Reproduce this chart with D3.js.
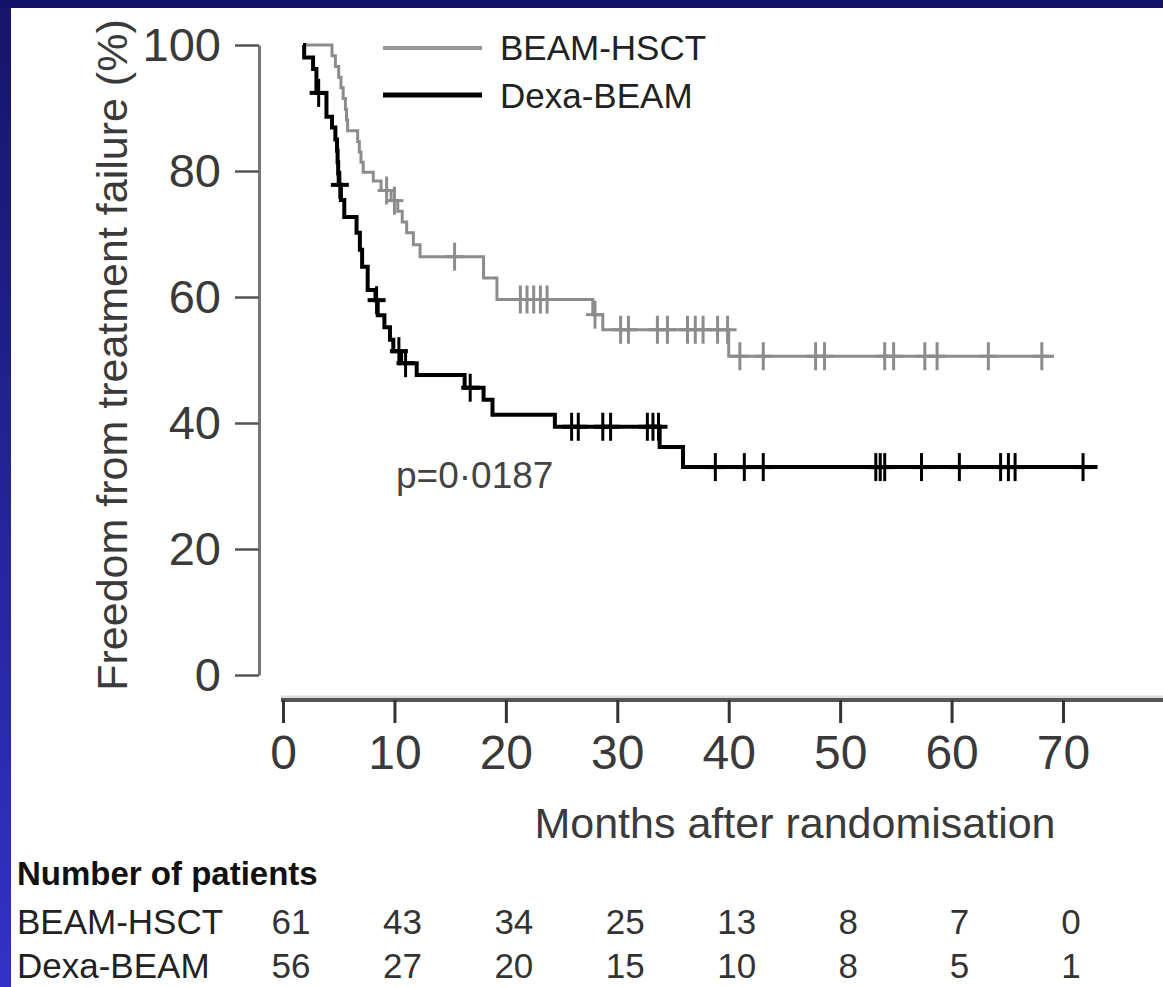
<!DOCTYPE html>
<html>
<head>
<meta charset="utf-8">
<script src="https://cdn.jsdelivr.net/npm/d3@7"></script>
<style>
  body { margin: 0; background: #fff; }
  svg { display: block; font-family: "Liberation Sans", Arial, Helvetica, sans-serif; }
</style>
</head>
<body>
<div id="chart"></div>
<script>
// Kaplan-Meier steps: [month, % free from failure]
var hsctSteps = [
  [1.8, 100], [4.4, 98.3], [4.7, 96.6], [5.0, 94.9], [5.2, 93.2], [5.4, 91.5],
  [5.6, 89.8], [5.7, 88.1], [5.8, 86.4], [6.7, 84.7], [6.85, 83.0], [7.0, 81.4],
  [7.2, 79.8], [8.1, 78.4], [8.8, 76.9], [9.7, 75.3], [10.3, 73.6], [10.7, 71.9],
  [11.1, 70.2], [11.7, 68.3], [12.3, 66.4], [18.0, 63.0], [19.2, 59.6],
  [27.8, 57.2], [28.7, 54.8], [40.0, 50.6]
];
var hsctEnd = 69.2;
var hsctCensor = [9.3, 10.0, 15.4, 21.3, 21.9, 22.5, 23.1, 23.7, 28.0, 30.3, 31.0,
  33.6, 34.5, 36.3, 37.0, 37.7, 39.0, 39.9, 41.0, 43.1, 47.8, 48.6, 54.0, 54.8,
  57.6, 58.7, 63.3, 68.1];

var dexaSteps = [
  [1.8, 100], [1.9, 98.0], [2.7, 96.2], [3.0, 92.4], [3.9, 88.6], [4.4, 86.9],
  [4.7, 85.0], [4.85, 83.2], [4.9, 81.4], [4.95, 79.6], [5.0, 77.8], [5.2, 75.4],
  [5.5, 72.7], [6.6, 70.2], [6.9, 67.5], [7.1, 64.8], [7.6, 61.1], [8.3, 59.5],
  [8.5, 57.1], [9.1, 55.2], [9.6, 53.2], [9.9, 51.4], [10.6, 49.5], [12.0, 47.6],
  [16.3, 45.6], [18.0, 43.7], [18.8, 41.3], [24.4, 39.4], [33.8, 36.2], [35.9, 33.0]
];
var dexaEnd = 73.1;
var dexaCensor = [3.2, 5.1, 8.4, 10.4, 11.0, 16.8, 25.9, 26.5, 28.7, 29.4, 32.7,
  33.2, 33.7, 38.8, 41.4, 43.1, 53.2, 53.6, 54.0, 57.3, 60.7, 64.4, 65.1, 65.7, 71.8];

var xTicks = [0, 10, 20, 30, 40, 50, 60, 70];
var yTicks = [0, 20, 40, 60, 80, 100];
var groups = ["BEAM-HSCT", "Dexa-BEAM"];
var hsctAtRisk = [61, 43, 34, 25, 13, 8, 7, 0];
var dexaAtRisk = [56, 27, 20, 15, 10, 8, 5, 1];
var pText = "p=0\u00b70187";

(function () {
    "use strict";

    var width = 1163, height = 987;
    var greyCol = "#8c8c8c", blackCol = "#000";

    var svg = d3.select("#chart").append("svg")
        .attr("width", width)
        .attr("height", height);

    //Blue slide frame
    var defs = svg.append("defs");
    var grad = defs.append("linearGradient").attr("id", "leftBand")
        .attr("x1", 0).attr("y1", 0).attr("x2", 0).attr("y2", 1);
    grad.append("stop").attr("offset", "0%").attr("stop-color", "#15156a");
    grad.append("stop").attr("offset", "100%").attr("stop-color", "#3232c8");

    svg.append("rect").attr("width", width).attr("height", height).attr("fill", "#fff");
    svg.append("rect").attr("x", 0).attr("y", 0).attr("width", 11).attr("height", height)
        .attr("fill", "url(#leftBand)");
    svg.append("rect").attr("x", 0).attr("y", 0).attr("width", width).attr("height", 8)
        .attr("fill", "#13136a");

    var x = d3.scaleLinear().domain([0, 70]).range([283, 1063]);
    var y = d3.scaleLinear().domain([0, 100]).range([675, 45]);

    //Y axis (ticks point left, line offset from x axis)
    var yAxis = svg.append("g").attr("transform", "translate(259,0)")
        .call(d3.axisLeft(y).tickValues(yTicks).tickSize(24).tickSizeOuter(0).tickPadding(14));
    yAxis.select(".domain").attr("stroke", "#777").attr("stroke-width", 3);
    yAxis.selectAll(".tick line").attr("stroke", "#555").attr("stroke-width", 2.5);
    yAxis.selectAll(".tick text")
        .attr("font-size", 47).attr("fill", "#3a3a3a")
        .attr("font-family", "Liberation Sans, Arial, sans-serif");

    //X axis
    svg.append("line").attr("x1", 281).attr("x2", width).attr("y1", 697).attr("y2", 697)
        .attr("stroke", "#ddd").attr("stroke-width", 3);
    var xAxis = svg.append("g").attr("transform", "translate(0,700)")
        .call(d3.axisBottom(x).tickValues(xTicks).tickSize(23).tickSizeOuter(0).tickPadding(12));
    xAxis.select(".domain").attr("d", "M281,0H" + width)
        .attr("stroke", "#555").attr("stroke-width", 4);
    xAxis.selectAll(".tick line").attr("stroke", "#333").attr("stroke-width", 3);
    xAxis.selectAll(".tick text")
        .attr("font-size", 48).attr("fill", "#3a3a3a")
        .attr("font-family", "Liberation Sans, Arial, sans-serif");

    //Axis titles
    svg.append("text")
        .attr("transform", "translate(127,355) rotate(-90)")
        .attr("text-anchor", "middle")
        .attr("font-size", 43).attr("fill", "#3a3a3a")
        .text("Freedom from treatment failure (%)");
    svg.append("text")
        .attr("x", 795).attr("y", 838)
        .attr("text-anchor", "middle")
        .attr("font-size", 43).attr("fill", "#3a3a3a")
        .text("Months after randomisation");

    //Survival curves
    var line = d3.line()
        .x(function (d) { return x(d[0]); })
        .y(function (d) { return y(d[1]); })
        .curve(d3.curveStepAfter);

    function stepAt(steps, t) {
        var v = steps[0][1];
        steps.forEach(function (s) { if (s[0] <= t) v = s[1]; });
        return v;
    }

    function drawCurve(steps, end, censor, col, lw, mw) {
        var pts = steps.concat([[end, steps[steps.length - 1][1]]]);
        svg.append("path").datum(pts)
            .attr("d", line)
            .attr("fill", "none")
            .attr("stroke", col)
            .attr("stroke-width", lw);

        var marks = svg.append("g").selectAll("g.mark")
            .data(censor).enter().append("g").attr("class", "mark")
            .attr("transform", function (d) {
                return "translate(" + x(d) + "," + y(stepAt(steps, d)) + ")";
            });
        marks.append("line")
            .attr("x1", 0).attr("x2", 0).attr("y1", -14).attr("y2", 14)
            .attr("stroke", col).attr("stroke-width", mw);
        marks.append("line")
            .attr("x1", -9).attr("x2", 9).attr("y1", 0).attr("y2", 0)
            .attr("stroke", col).attr("stroke-width", lw);
    }

    drawCurve(hsctSteps, hsctEnd, hsctCensor, greyCol, 3, 3);
    drawCurve(dexaSteps, dexaEnd, dexaCensor, blackCol, 4, 3);

    //Legend
    var legend = svg.append("g");
    [greyCol, blackCol].forEach(function (c, i) {
        legend.append("line")
            .attr("x1", 383).attr("x2", 482)
            .attr("y1", 48 + i * 47).attr("y2", 48 + i * 47)
            .attr("stroke", i === 0 ? "#999" : "#000")
            .attr("stroke-width", i === 0 ? 4 : 5);
        legend.append("text")
            .attr("x", 500).attr("y", 60 + i * 48)
            .attr("font-size", 35).attr("fill", "#222")
            .text(groups[i]);
    });

    //p value
    svg.append("text")
        .attr("x", 396).attr("y", 488)
        .attr("font-size", 37).attr("fill", "#444")
        .text(pText);

    //Number at risk table
    svg.append("text")
        .attr("x", 17).attr("y", 885)
        .attr("font-size", 33).attr("font-weight", "bold").attr("fill", "#111")
        .text("Number of patients");

    [hsctAtRisk, dexaAtRisk].forEach(function (row, i) {
        var ry = 934 + i * 44;
        svg.append("text")
            .attr("x", 17).attr("y", ry)
            .attr("font-size", 35).attr("fill", "#222")
            .text(groups[i]);
        svg.append("g").selectAll("text")
            .data(row).enter().append("text")
            .attr("x", function (d, j) { return x(xTicks[j]) + 8; })
            .attr("y", ry)
            .attr("text-anchor", "middle")
            .attr("font-size", 35).attr("fill", "#333")
            .text(function (d) { return d; });
    });

})();
</script>
</body>
</html>
